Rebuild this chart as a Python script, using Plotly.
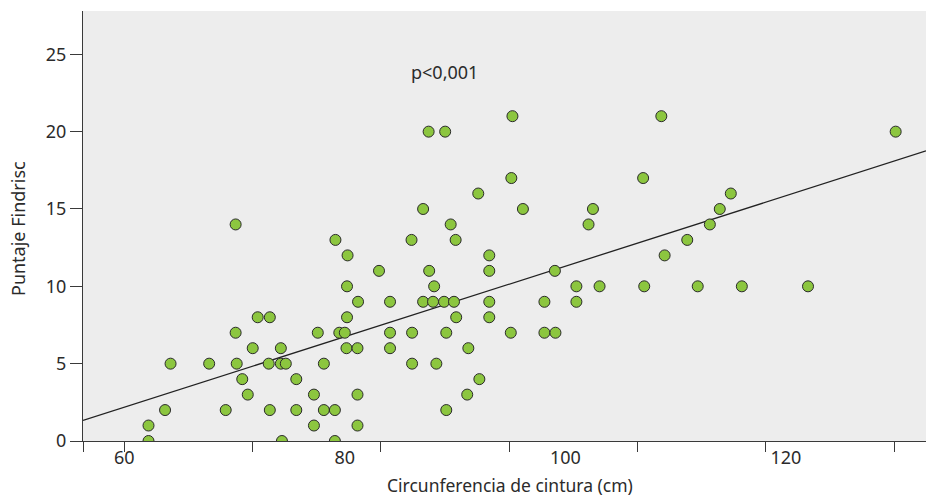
import plotly.graph_objects as go

# Data (waist circumference cm, Findrisc score)
waist = [62.2, 74.3, 79.1,
         62.2, 77.2, 81.15,
         63.7, 69.2, 73.2, 75.6, 78.1, 79.1, 89.2,
         71.2, 77.2, 81.15, 91.1,
         70.7, 75.6, 92.2,
         64.2, 67.7, 70.2, 73.1, 74.2, 74.65, 78.1, 86.1, 88.3,
         71.65, 74.2, 80.15, 81.15, 84.1, 91.2,
         70.1, 77.55, 79.5, 80.0, 84.1, 86.1, 89.2, 95.05, 98.1, 99.1,
         72.1, 73.2, 80.2, 90.1, 93.1,
         81.2, 84.1, 87.1, 88.0, 89.0, 89.9, 93.1, 98.1, 101.0,
         80.2, 88.1, 101.0, 103.1, 107.15, 112.0, 116.0, 122.0,
         83.1, 87.65, 93.1, 99.05,
         80.25, 93.1, 109.0,
         79.15, 86.05, 90.05, 111.05,
         70.1, 89.6, 102.1, 113.1,
         87.1, 96.15, 102.5, 114.0,
         92.1, 115.0,
         95.1, 107.05,
         87.6, 89.1, 129.95,
         95.2, 108.7]
score = [0]*3 + [1]*3 + [2]*7 + [3]*4 + [4]*3 + [5]*9 + [6]*6 + [7]*10 + [8]*5 + \
        [9]*9 + [10]*8 + [11]*4 + [12]*3 + [13]*4 + [14]*4 + [15]*4 + [16]*2 + \
        [17]*2 + [20]*3 + [21]*2

fit_intercept = -11.5
fit_slope = 0.228

x_ticks = [60, 80, 100, 120]
y_ticks = [0, 5, 10, 15, 20, 25]
x_range = [56.26, 132.7]
y_range = [0, 27.8]

p_label = "p<0,001"
x_title = "Circunferencia de cintura (cm)"
y_title = "Puntaje Findrisc"

FONT = "'Noto Sans', 'Open Sans', sans-serif"
TXT = "#2b2b2b"

fig = go.Figure()
fig.add_trace(go.Scatter(
    x=x_range, y=[fit_intercept + fit_slope * v for v in x_range],
    mode="lines", line=dict(color="#222222", width=1.3),
    hoverinfo="skip", showlegend=False))
fig.add_trace(go.Scatter(
    x=waist, y=score, mode="markers",
    marker=dict(size=11, color="#8cc63f", line=dict(color="#2a2a2a", width=1)),
    showlegend=False))
# invisible trace to activate the secondary x axis (tick marks only)
fig.add_trace(go.Scatter(x=[0], y=[0], xaxis="x2", mode="markers",
                         marker=dict(opacity=0), showlegend=False, hoverinfo="skip"))

fig.update_layout(
    width=926, height=498,
    margin=dict(l=83, r=0, t=11, b=57),
    paper_bgcolor="white", plot_bgcolor="#ededed",
    font=dict(family=FONT, color=TXT, size=18),
    xaxis=dict(range=x_range, tickvals=x_ticks, ticks="", showgrid=False,
               zeroline=False, showline=True, linecolor="#3a3a3a", linewidth=1.3,
               tickfont=dict(size=18, color=TXT)),
    xaxis2=dict(overlaying="x", side="bottom", range=[-0.321, 6.247],
                tickvals=[-0.321, 0, 1, 2, 3, 4, 5, 6], showticklabels=False,
                ticks="outside", ticklen=10, tickwidth=1.3, tickcolor="#3a3a3a",
                showgrid=False, zeroline=False, showline=False),
    yaxis=dict(range=y_range, tickvals=y_ticks, ticks="outside", ticklen=12,
               tickwidth=1.3, tickcolor="#3a3a3a", showgrid=False, zeroline=False,
               showline=True, linecolor="#3a3a3a", linewidth=1.3,
               tickfont=dict(size=18, color=TXT)),
    annotations=[
        dict(text=p_label, x=89.0, y=23.86, xref="x", yref="y", showarrow=False,
             xanchor="center", yanchor="middle", font=dict(size=18, color=TXT)),
        dict(text=x_title, x=0.5065, y=-0.1023, xref="paper", yref="paper",
             xanchor="center", yanchor="middle",
             showarrow=False, font=dict(size=17.5, color=TXT)),
        dict(text=y_title, x=-0.0771, y=0.493, xref="paper", yref="paper",
             xanchor="center", yanchor="middle",
             textangle=-90, showarrow=False, font=dict(size=18, color=TXT)),
    ],
)

fig.write_html("out.html",
               config={"displayModeBar": False},
               post_script="document.body.style.margin='0';"
                           "document.body.style.overflow='hidden';")
